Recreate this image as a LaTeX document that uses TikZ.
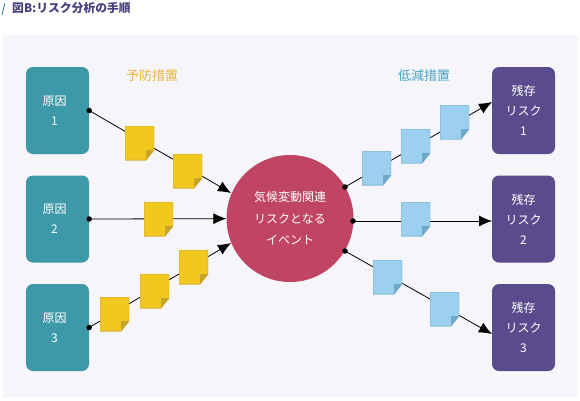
\documentclass[tikz,border=0pt]{standalone}
\usepackage{fontspec}
\setmainfont{Noto Sans CJK JP}
\usetikzlibrary{arrows.meta}
\definecolor{panelGray}{HTML}{F5F5FA}
\definecolor{causeTeal}{HTML}{3D98A8}
\definecolor{riskPurple}{HTML}{5A4C8C}
\definecolor{eventRed}{HTML}{C04562}
\definecolor{titleBlue}{HTML}{45417F}
\definecolor{labelOrange}{HTML}{F0B43C}
\definecolor{labelBlue}{HTML}{45A5C8}
\definecolor{noteYellow}{HTML}{F2C71E}
\definecolor{edgeYellow}{HTML}{D9B233}
\definecolor{foldYellow}{HTML}{C9A42B}
\definecolor{noteBlue}{HTML}{9CD0EE}
\definecolor{edgeBlue}{HTML}{84BCD8}
\definecolor{foldBlue}{HTML}{6FA9C9}
\newcommand{\causeLabel}[1]{原因\kern6pt\\#1\kern6pt}
\tikzset{
  flowBox/.style={rounded corners=7pt, align=center, text=white, font=\fontsize{12}{20}\selectfont, minimum width=63pt, minimum height=87pt, inner sep=0pt},
  causeBox/.style={flowBox, fill=causeTeal},
  riskBox/.style={flowBox, fill=riskPurple},
  eventNode/.style={circle, fill=eventRed, align=center, text=white, font=\fontsize{12}{21.5}\selectfont, minimum size=127pt, inner sep=0pt},
  headLabel/.style={font=\fontsize{13}{15}\selectfont, inner sep=0pt},
  flowDot/.style={circle, fill=black, minimum size=5.5pt, inner sep=0pt},
  flowArrow/.style={-{Latex[length=13pt,width=11pt]}, line width=0.8pt, shorten <=-2pt},
  noteBox/.style n args={3}{minimum width=29pt, minimum height=34pt, inner sep=0pt,
    path picture={
      \draw[draw=#2, fill=#1, line width=1pt] (path picture bounding box.north west) -- (path picture bounding box.north east) -- ([yshift=10pt]path picture bounding box.south east) -- ([xshift=-8pt]path picture bounding box.south east) -- (path picture bounding box.south west) -- cycle;
      \fill[#3] ([yshift=10pt]path picture bounding box.south east) -- ([xshift=-8pt]path picture bounding box.south east) -- ([xshift=-8pt,yshift=10pt]path picture bounding box.south east) -- cycle;
    }},
  preventNote/.style={noteBox={noteYellow}{edgeYellow}{foldYellow}},
  reduceNote/.style={noteBox={noteBlue}{edgeBlue}{foldBlue}}
}
\begin{document}
\begin{tikzpicture}[x=1pt, y=-1pt]
  \useasboundingbox (0,0) rectangle (580,400);
  \node[fill=panelGray, minimum width=575pt, minimum height=363pt, inner sep=0pt] (panel) at (290.5,216.5) {};
  \draw[causeTeal, line width=1pt] (5,3) -- (2,15);
  \node[anchor=west, text=titleBlue, font=\fontsize{11.8}{14}\selectfont\bfseries, inner sep=0pt] (title) at (12,8.5) {図B:リスク分析の手順};
  \node[headLabel, text=labelOrange] (prevent) at (152,76) {予防措置};
  \node[headLabel, text=labelBlue] (reduce) at (424,76) {低減措置};
  % causes, event and risks
  \node[causeBox] (cause1) at (57.5,110.5) {\causeLabel{1}};
  \node[causeBox] (cause2) at (57.5,219) {\causeLabel{2}};
  \node[causeBox] (cause3) at (57.5,327.5) {\causeLabel{3}};
  \node[eventNode] (event) at (290,218.5) {気候変動関連\\リスクとなる\\イベント};
  \node[riskBox] (risk1) at (523.5,110.5) {残存\\リスク\\1};
  \node[riskBox] (risk2) at (523.5,219) {残存\\リスク\\2};
  \node[riskBox] (risk3) at (523.5,327.5) {残存\\リスク\\3};
  % dots and ends of the connectors
  \node[flowDot] (dotC1) at (cause1.east) {};
  \node[flowDot] (dotC2) at (cause2.east) {};
  \node[flowDot] (dotC3) at (cause3.east) {};
  \node[flowDot] (dotE1) at (345,187) {};
  \node[flowDot] (dotE2) at (353,221) {};
  \node[flowDot] (dotE3) at (345,251) {};
  \coordinate (endE1) at (231,193);
  \coordinate (endE3) at (231,243);
  \coordinate (endR1) at (492,102);
  \coordinate (endR2) at (492,221);
  \coordinate (endR3) at (492,334);
  \draw[flowArrow] (dotC1) -- (endE1);
  \draw[flowArrow] (dotC2) -- (event);
  \draw[flowArrow] (dotC3) -- (endE3);
  \draw[flowArrow] (dotE1) -- (endR1);
  \draw[flowArrow] (dotE2) -- (endR2);
  \draw[flowArrow] (dotE3) -- (endR3);
  % notes on the connectors
  \node[preventNote] (noteA) at (139.5,143) {};
  \node[preventNote] (noteB) at (187.5,171) {};
  \node[preventNote] (noteC) at (158.5,219) {};
  \node[preventNote] (noteD) at (114.5,314) {};
  \node[preventNote] (noteE) at (154.5,291) {};
  \node[preventNote] (noteF) at (193.5,267) {};
  \node[reduceNote] (noteG) at (376.5,168) {};
  \node[reduceNote] (noteH) at (415.5,146) {};
  \node[reduceNote] (noteI) at (454.5,122) {};
  \node[reduceNote] (noteJ) at (415.5,219) {};
  \node[reduceNote] (noteK) at (387.5,277) {};
  \node[reduceNote] (noteL) at (444.5,309) {};
\end{tikzpicture}
\end{document}
